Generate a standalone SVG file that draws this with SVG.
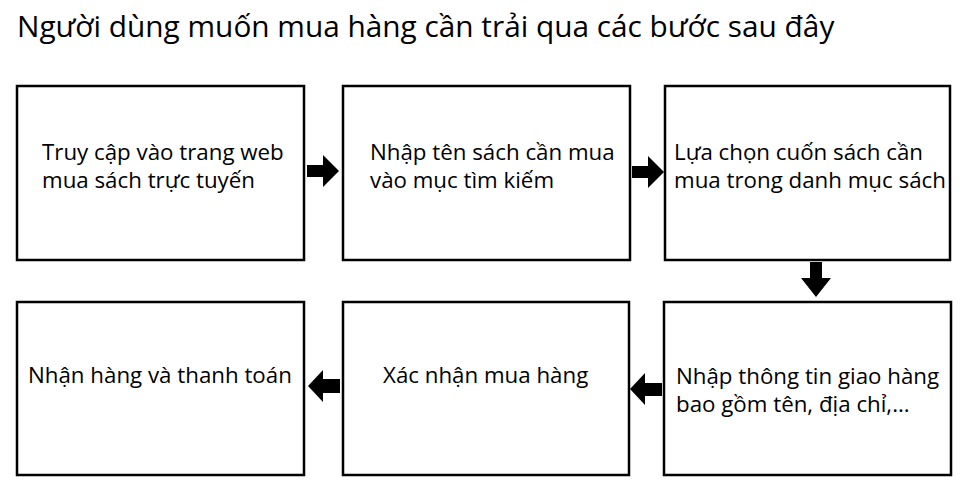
<svg xmlns="http://www.w3.org/2000/svg" width="970" height="489" viewBox="0 0 970 489">
<style>
.box{fill:#fff;stroke:#000;stroke-width:2.5}
.t{font-family:"Open Sans","Noto Sans",sans-serif;font-size:22.3px;fill:#000}
.title{font-family:"Open Sans","Noto Sans",sans-serif;font-size:29.8px;fill:#000}
.arr{fill:#000}
</style>
<rect width="970" height="489" fill="#fff"/>
<text class="title" x="17" y="37">Người dùng muốn mua hàng cần trải qua các bước sau đây</text>
<g id="n1"><rect class="box" x="17" y="86" width="287" height="174"/>
<text class="t" x="42" y="160">Truy cập vào trang web</text><text class="t" x="42" y="188">mua sách trực tuyến</text></g>
<g id="n2"><rect class="box" x="343" y="86" width="287" height="174"/>
<text class="t" x="370" y="160">Nhập tên sách cần mua</text><text class="t" x="370" y="188">vào mục tìm kiếm</text></g>
<g id="n3"><rect class="box" x="665" y="86" width="285" height="174"/>
<text class="t" x="674" y="160">Lựa chọn cuốn sách cần</text><text class="t" x="674" y="188">mua trong danh mục sách</text></g>
<g id="n4"><rect class="box" x="664" y="302" width="287" height="173"/>
<text class="t" x="676" y="384">Nhập thông tin giao hàng</text><text class="t" x="676" y="412">bao gồm tên, địa chỉ,...</text></g>
<g id="n5"><rect class="box" x="343" y="302" width="286" height="173"/>
<text class="t" x="383" y="383">Xác nhận mua hàng</text></g>
<g id="n6"><rect class="box" x="17" y="302" width="287" height="173"/>
<text class="t" x="28" y="383">Nhận hàng và thanh toán</text></g>
<g id="connectors">
<polygon class="arr" points="307,165 323,165 323,155 339,171 323,187 323,177 307,177"/>
<polygon class="arr" points="632,166 648,166 648,156 664,172 648,188 648,178 632,178"/>
<polygon class="arr" points="810,262 822,262 822,278 831,278 816,297 801,278 810,278"/>
<polygon class="arr" points="340,379 323,379 323,370 308,386 323,402 323,393 340,393"/>
<polygon class="arr" points="662,383 645,383 645,373 630,389 645,405 645,396 662,396"/>
</g>
</svg>
